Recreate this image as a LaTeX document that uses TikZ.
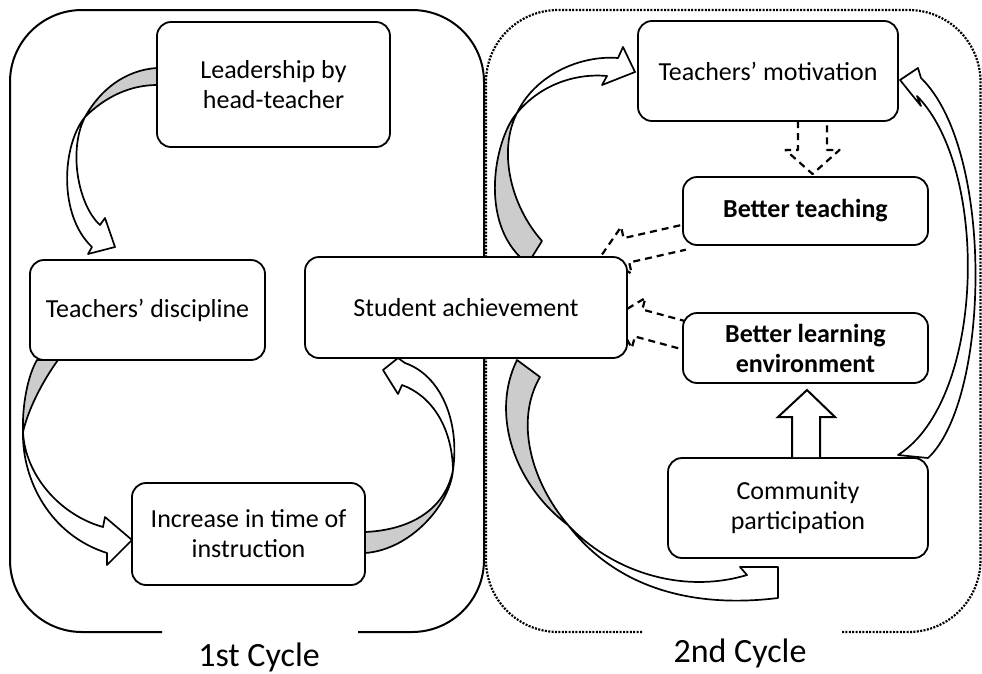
\documentclass[tikz,border=0pt]{standalone}
\usepackage{fontspec}
\setmainfont{Carlito}
\definecolor{shade}{gray}{0.80}
\begin{document}
\begin{tikzpicture}[x=1pt,y=-1pt,
  box/.style={draw, line width=1.8pt, rounded corners=14pt, fill=white, align=center,
              inner sep=0pt, font=\fontsize{26}{30}\selectfont},
  boldbox/.style={box, font=\fontsize{26}{30}\selectfont\bfseries},
  ribbon/.style={draw, line width=1.7pt, fill=white, line join=round},
  ribbonback/.style={draw, line width=1.7pt, fill=shade, line join=round},
  dashedarrow/.style={draw, line width=2.2pt, dash pattern=on 7pt off 5pt, line join=round},
  blockarrow/.style={draw, line width=2pt, fill=white, line join=miter},
  cyclelabel/.style={font=\fontsize{34}{38}\selectfont, inner sep=0pt},
]
\useasboundingbox (0,0) rectangle (982,673);

% the two cycle frames
\draw[line width=2pt, rounded corners=72pt]
  (162,632) -- (10,632) -- (10,10) -- (484,10) -- (484,632) -- (358,632);
\draw[line width=2.2pt, dash pattern=on 2pt off 1.4pt, rounded corners=72pt]
  (642,632) -- (486,632) -- (486,10) -- (980.5,10) -- (980.5,632) -- (842,632);
\node[cyclelabel] (c1) at (259,657) {1st Cycle};
\node[cyclelabel] (c2) at (740,653) {2nd Cycle};

% curved ribbon arrows of the first cycle
\path[ribbonback] (157,68) .. controls (125,70) and (100,90) .. (85,117)
  .. controls (105,97) and (130,85) .. (157,85) -- cycle;
\path[ribbon] (85,117) .. controls (62,145) and (58,215) .. (92,247)
  -- (88,254) -- (115,247) -- (105,218) -- (100,225)
  .. controls (78,205) and (68,150) .. (85,117) -- cycle;

\path[ribbonback] (37,360) .. controls (28,375) and (22,405) .. (23,432)
  .. controls (28,410) and (42,382) .. (58,360) -- cycle;
\path[ribbon] (23,432) .. controls (22,480) and (50,535) .. (107,553)
  -- (107,565) -- (132,540) -- (105,517) -- (103,527)
  .. controls (60,515) and (25,475) .. (23,432) -- cycle;

\path[ribbonback] (365,532) .. controls (410,530) and (445,510) .. (453,470)
  .. controls (450,505) and (410,550) .. (365,553) -- cycle;
\path[ribbon] (453,470) .. controls (460,420) and (440,375) .. (405,363)
  -- (398,358) -- (383,370) -- (398,394) -- (402,385)
  .. controls (430,395) and (452,425) .. (453,470) -- cycle;

% curved ribbon arrows of the second cycle
\path[ribbonback] (520,257) -- (532,257) -- (542,241)
  .. controls (510,205) and (498,150) .. (517,113)
  .. controls (497,135) and (478,215) .. (520,257) -- cycle;
\path[ribbon] (517,113) .. controls (535,75) and (580,55) .. (618,58)
  -- (623,47) -- (635,72) -- (602,85) -- (607,76)
  .. controls (575,73) and (540,85) .. (517,113) -- cycle;

\path[ribbonback] (517,360) -- (540,377) .. controls (515,420) and (530,480) .. (568,525)
  .. controls (515,485) and (490,415) .. (517,360) -- cycle;
\path[ribbon] (568,525) .. controls (610,580) and (680,610) .. (778,598)
  -- (778,567) -- (740,567) -- (747,575)
  .. controls (680,595) and (610,570) .. (568,525) -- cycle;

\path[ribbon] (898,455) .. controls (985,400) and (990,170) .. (917,96)
  -- (921,106) -- (900,80) -- (918,68) -- (921,78)
  .. controls (995,150) and (990,400) .. (928,458) -- cycle;

% dashed block arrows
\path[dashedarrow] (798,121) -- (798,150) -- (785.5,150) -- (812.5,174)
  -- (839.5,150) -- (827,150) -- (827,121);
\path[dashedarrow] (680.2,225.3) -- (623.6,238.1) -- (621.1,226.9) -- (601,256)
  -- (631.7,273.7) -- (629.2,262.5) -- (685.8,249.7);
\path[dashedarrow] (686.7,321.5) -- (642.3,309.5) -- (645.4,297.9) -- (614.5,316.5)
  -- (631.8,348.1) -- (634.9,336.5) -- (679.3,348.5);

% boxes
\node[box, minimum width=233pt, minimum height=125pt] (lead) at (273.5,84.5)
  {Leadership by\\head-teacher};
\node[box, minimum width=235pt, minimum height=100pt] (disc) at (147.5,310)
  {Teachers’ discipline};
\node[box, minimum width=233pt, minimum height=102pt] (incr) at (248.5,534)
  {Increase in time of\\instruction};
\node[box, minimum width=322pt, minimum height=101pt] (stud) at (466,307.5)
  {Student achievement};
\node[box, minimum width=260pt, minimum height=100pt] (motiv) at (768,71)
  {Teachers’ motivation};
\node[boldbox, minimum width=245pt, minimum height=68pt] (teach) at (805.5,211)
  {Better teaching};
\node[boldbox, minimum width=245pt, minimum height=70pt] (learn) at (805.5,348)
  {Better learning\\environment};
\node[box, minimum width=260pt, minimum height=100pt] (comm) at (798,508)
  {Community\\participation};

% solid block arrow from community participation up to the learning environment
\path[blockarrow] ([xshift=-6pt]comm.north) -- (792,417) -- (778,417) -- (807,390)
  -- (835,417) -- (820,417) -- ([xshift=22pt]comm.north);
\end{tikzpicture}
\end{document}
